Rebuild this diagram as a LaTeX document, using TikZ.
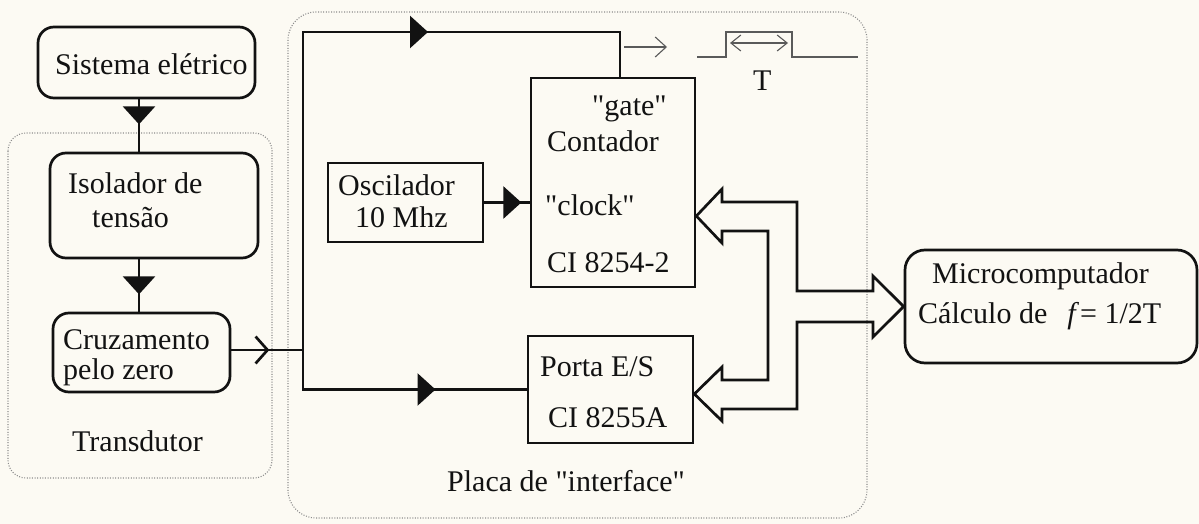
\documentclass[tikz,border=0pt]{standalone}
\usepackage{fontspec}
\setmainfont{Liberation Serif}[Ligatures=TeXOff]
\usetikzlibrary{arrows.meta,decorations.markings,calc}
\definecolor{bgc}{RGB}{252,250,243}
\definecolor{ink}{RGB}{18,18,18}
\definecolor{dotc}{RGB}{140,140,140}
\definecolor{thinc}{RGB}{90,90,90}
\tikzset{
  box/.style={draw=ink, line width=2.7pt, inner sep=0pt},
  rbox/.style={box, rounded corners=16pt},
  txt/.style={anchor=base west, inner sep=0pt, text=ink, font=\fontsize{30}{34}\selectfont},
  conn/.style={draw=ink, line width=2.7pt},
  group/.style={draw=dotc, line width=1.1pt, dash pattern=on 1pt off 1.6pt, rounded corners=#1},
  tri/.tip={Triangle[length=18pt,width=32pt]},
  barb/.tip={Straight Barb[length=12pt,width=27pt]},
  markat/.style={postaction={decorate}, decoration={markings, mark=at position #1 with {\arrow{tri}}}},
  barbat/.style={postaction={decorate}, decoration={markings, mark=at position #1 with {\arrow{barb}}}},
  signal/.style={draw=thinc, line width=1.3pt},
}
\begin{document}
\begin{tikzpicture}[x=1pt,y=-1pt]
\fill[bgc] (0,0) rectangle (1199,524);
\useasboundingbox (0,0) rectangle (1199,524);

% groups
\draw[group=18pt] (8,133) rectangle (272,478);
\draw[group=28pt] (288,12) rectangle (867,518);

% boxes
\node[rbox, minimum width=217pt, minimum height=71pt] (sist) at (146.5,62.5) {};
\node[rbox, minimum width=208pt, minimum height=105pt] (iso) at (154,205.5) {};
\node[rbox, minimum width=177pt, minimum height=79pt] (cruz) at (141.5,352.5) {};
\node[box, minimum width=155pt, minimum height=79pt] (osc) at (405.5,202.5) {};
\node[box, minimum width=164pt, minimum height=209pt] (cont) at (613,182.5) {};
\node[box, minimum width=165pt, minimum height=107pt] (porta) at (610.5,389.5) {};
\node[rbox, rounded corners=20pt, minimum width=292pt, minimum height=113pt] (micro) at (1051,306.5) {};

% texts
\node[txt] (tsist) at (55,75) {Sistema elétrico};
\node[txt] (tiso1) at (68,193) {Isolador de};
\node[txt] (tiso2) at (92,227) {tensão};
\node[txt] (tcru1) at (63,349) {Cruzamento};
\node[txt] (tcru2) at (63,379) {pelo zero};
\node[txt] (ttra) at (72,451) {Transdutor};
\node[txt] (tosc1) at (338,195) {Oscilador};
\node[txt] (tosc2) at (355,227) {10 Mhz};
\node[txt] (tgate) at (592,116) {"gate"};
\node[txt] (tcont) at (547,151) {Contador};
\node[txt] (tclock) at (545,215) {"clock"};
\node[txt] (tci1) at (547,272) {CI 8254-2};
\node[txt] (tpor1) at (540,376) {Porta E/S};
\node[txt] (tpor2) at (548,427) {CI 8255A};
\node[txt] (tplaca) at (447,491) {Placa de "interface"};
\node[txt] (tT) at (753,91) {T};
\node[txt] (tmic1) at (932,283) {Microcomputador};
\node[txt] (tmic2) at (918,323) {Cálculo de\hspace{20pt}\textit{f}\hspace{1pt}= 1/2T};

% connectors
\coordinate (colx) at (139,0);
\draw[conn, markat=25pt] (sist.south -| colx) -- (iso.north -| colx);
\draw[conn, markat=35pt] (iso.south -| colx) -- (cruz.north -| colx);
\coordinate (j) at (303,350);
\draw[conn, barbat=38pt] (cruz.east |- j) -- (j);
\coordinate (g) at (620,32);
\draw[conn, markat=443pt] (j) |- (g) -- (g |- cont.north);
\draw[conn, markat=172pt] (j) |- (porta.west);
\draw[conn, markat=37pt] (osc.east) -- (osc.east -| cont.west);

% gate output signal
\coordinate (s0) at (624,47);
\coordinate (s1) at (667,47);
\draw[signal, line width=1.1pt, -{Straight Barb[length=11pt,width=20pt]}] (s0) -- (s1);
\draw[signal] (697,57) -- (726,57) -- (726,32) -- (792,32) -- (792,57) -- (858,57);
\coordinate (p0) at (730,43);
\coordinate (p1) at (788,43);
\draw[signal, line width=1.1pt, {Straight Barb[length=10pt,width=16pt]}-{Straight Barb[length=10pt,width=16pt]}] (p0) -- (p1);

% data bus
\path (cont.east) ++(0,33.5) coordinate (t1);
\path (porta.east) ++(0,4.5) coordinate (t2);
\coordinate (t3) at (micro.west);
\draw[conn, line join=miter] (722,189) -- (t1) -- (722,243) -- (722,231) -- (768,231) -- (768,380)
  -- (722,380) -- (722,367) -- (t2) -- (722,421) -- (722,409) -- (797,409) -- (797,322)
  -- (873,322) -- (873,337) -- (t3) -- (873,276) -- (873,291) -- (797,291) -- (797,202)
  -- (722,202) -- cycle;
\end{tikzpicture}
\end{document}
